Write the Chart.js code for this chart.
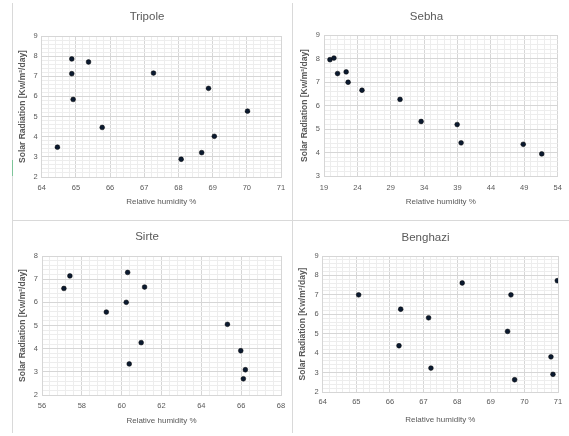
<!DOCTYPE html>
<html>
<head>
<meta charset="utf-8">
<script src="https://cdn.jsdelivr.net/npm/chart.js@4.4.1/dist/chart.umd.min.js"></script>
<style>
  body { margin: 0; background: #fff; width: 569px; height: 436px; position: relative; overflow: hidden; }
  canvas { position: absolute; }
  .line { position: absolute; background: #d9d9d9; }
</style>
</head>
<body>
<div class="line" style="left:12px;top:3px;width:1px;height:430px"></div>
<div class="line" style="left:292px;top:3px;width:1px;height:430px"></div>
<div class="line" style="left:12px;top:220px;width:557px;height:1px"></div>
<div class="line" style="left:12px;top:160px;width:1px;height:16px;background:#7fc49a"></div>

<canvas id="tripoleChart" width="279" height="220" style="left:13px;top:0px"></canvas>
<canvas id="sebhaChart" width="276" height="220" style="left:293px;top:0px"></canvas>
<canvas id="sirteChart" width="279" height="215" style="left:13px;top:221px"></canvas>
<canvas id="benghaziChart" width="276" height="215" style="left:293px;top:221px"></canvas>

<script>
// values
const tripoleHumidity = [64.46, 64.88, 64.88, 64.92, 65.37, 65.77, 67.27, 68.08, 68.68, 68.88, 69.05, 70.02];
const tripoleRadiation = [3.48, 7.86, 7.13, 5.85, 7.71, 4.46, 7.16, 2.88, 3.21, 6.40, 4.02, 5.27];

const sebhaHumidity = [19.89, 20.49, 21.03, 22.32, 22.61, 24.69, 30.39, 33.55, 38.95, 39.54, 48.85, 51.62];
const sebhaRadiation = [7.95, 8.02, 7.36, 7.43, 6.99, 6.65, 6.26, 5.32, 5.19, 4.41, 4.35, 3.94];

const sirteHumidity = [57.10, 57.40, 59.23, 60.23, 60.30, 61.15, 60.38, 60.98, 65.31, 65.98, 66.21, 66.11];
const sirteRadiation = [6.60, 7.14, 5.58, 6.00, 7.29, 6.66, 3.34, 4.26, 5.05, 3.91, 3.09, 2.70];

const benghaziHumidity = [65.07, 66.32, 66.27, 67.15, 67.22, 68.15, 69.60, 69.50, 69.71, 70.79, 70.85, 70.98];
const benghaziRadiation = [7.00, 6.26, 4.38, 5.82, 3.23, 7.61, 7.00, 5.12, 2.63, 3.81, 2.91, 7.73];

// axis ranges: [min, max, major step, minor step]
const tripoleX = [64, 71, 1, 0.2];
const tripoleY = [2, 9, 1, 0.2];
const sebhaX = [19, 54, 5, 1];
const sebhaY = [3, 9, 1, 0.2];
const sirteX = [56, 68, 2, 0.4];
const sirteY = [2, 8, 1, 0.2];
const benghaziX = [64, 71, 1, 0.2];
const benghaziY = [2, 9, 1, 0.2];

const textColor = '#595959';
const fontFamily = "'Liberation Sans', Arial, sans-serif";

function isMajor(v, range) {
    let r = (v - range[0]) / range[2];
    return Math.abs(r - Math.round(r)) < 1e-6;
}

function makeChart(id, title, xs, ys, xRange, yRange, box) {
    let points = xs.map((x, i) => ({ x: x, y: ys[i] }));
    return new Chart(document.getElementById(id).getContext('2d'), {
        type: 'scatter',
        data: {
            datasets: [{
                data: points,
                backgroundColor: '#0b1a30',
                borderColor: '#000000',
                borderWidth: 0.5,
                pointRadius: 2.4,
            }]
        },
        options: {
            responsive: false,
            animation: false,
            layout: { padding: { left: 0, right: box.right, top: 0, bottom: 0 } },
            plugins: {
                legend: { display: false },
                tooltip: { enabled: false },
                title: {
                    display: true,
                    text: title,
                    color: textColor,
                    font: { family: fontFamily, size: 11.5, weight: 'normal', lineHeight: 1.2 },
                    padding: { top: box.titleTop, bottom: box.titleBottom }
                }
            },
            scales: {
                x: {
                    type: 'linear',
                    min: xRange[0],
                    max: xRange[1],
                    afterFit: (scale) => { scale.height = box.xHeight; },
                    ticks: {
                        stepSize: xRange[3],
                        autoSkip: false,
                        maxRotation: 0,
                        padding: box.xTickPad,
                        color: textColor,
                        font: { family: fontFamily, size: 7.5 },
                        callback: (v) => isMajor(v, xRange) ? String(Math.round(v)) : ''
                    },
                    grid: {
                        drawTicks: false,
                        color: (ctx) => isMajor(ctx.tick.value, xRange) ? '#d6d6d6' : '#ededed',
                        lineWidth: 1
                    },
                    border: { color: '#d6d6d6' },
                    title: {
                        display: true,
                        text: 'Relative humidity %',
                        color: textColor,
                        font: { family: fontFamily, size: 8, lineHeight: 1.2 },
                        padding: { top: 0, bottom: box.xTitleBottom }
                    }
                },
                y: {
                    type: 'linear',
                    min: yRange[0],
                    max: yRange[1],
                    afterFit: (scale) => { scale.width = box.yWidth; },
                    ticks: {
                        stepSize: yRange[3],
                        autoSkip: false,
                        padding: 4,
                        color: textColor,
                        font: { family: fontFamily, size: 7.5 },
                        callback: (v) => isMajor(v, yRange) ? String(Math.round(v)) : ''
                    },
                    grid: {
                        drawTicks: false,
                        color: (ctx) => isMajor(ctx.tick.value, yRange) ? '#d6d6d6' : '#ededed',
                        lineWidth: 1
                    },
                    border: { color: '#d6d6d6' },
                    title: {
                        display: true,
                        text: 'Solar Radiation [Kw/m²/day]',
                        color: textColor,
                        font: { family: fontFamily, size: 8.5, weight: 'bold', lineHeight: 1.2 },
                        padding: { top: box.yTitleTop, bottom: 0 }
                    }
                }
            }
        }
    });
}

makeChart('tripoleChart', 'Tripole', tripoleHumidity, tripoleRadiation, tripoleX, tripoleY,
    { right: 11, titleTop: 10.4, titleBottom: 11.8, yWidth: 28.7, xHeight: 43, xTickPad: 6.2, xTitleBottom: 13.2, yTitleTop: 4.2 });
makeChart('sebhaChart', 'Sebha', sebhaHumidity, sebhaRadiation, sebhaX, sebhaY,
    { right: 9, titleTop: 9.8, titleBottom: 11.4, yWidth: 31, xHeight: 44, xTickPad: 7.2, xTitleBottom: 13.5, yTitleTop: 6.6 });
makeChart('sirteChart', 'Sirte', sirteHumidity, sirteRadiation, sirteX, sirteY,
    { right: 11, titleTop: 9.1, titleBottom: 12.1, yWidth: 29, xHeight: 41, xTickPad: 6.2, xTitleBottom: 10.5, yTitleTop: 4.2 });
makeChart('benghaziChart', 'Benghazi', benghaziHumidity, benghaziRadiation, benghaziX, benghaziY,
    { right: 11, titleTop: 10.1, titleBottom: 11.1, yWidth: 29.7, xHeight: 44, xTickPad: 5.8, xTitleBottom: 11.5, yTitleTop: 4.2 });
</script>
</body>
</html>
